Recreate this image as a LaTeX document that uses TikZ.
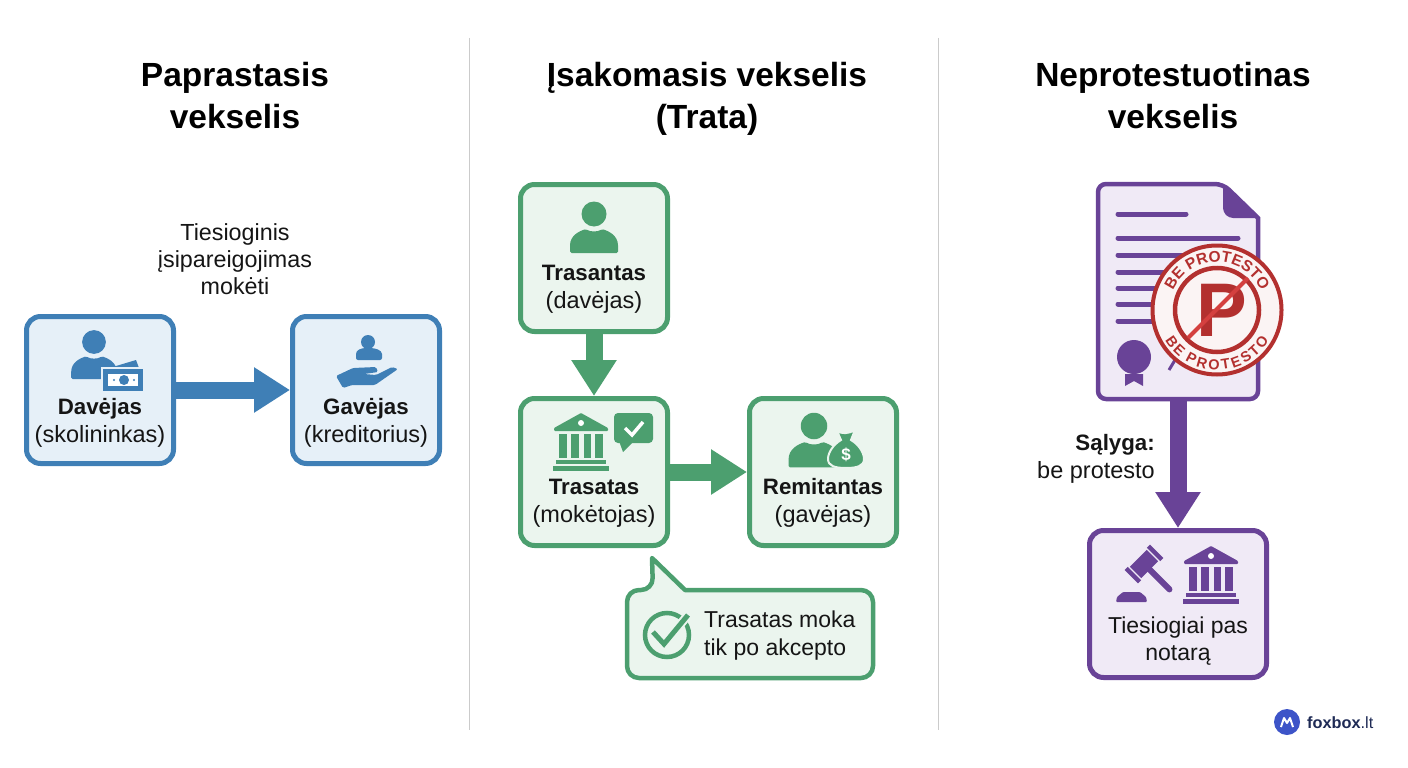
\documentclass[tikz,border=0pt]{standalone}
\usepackage{fontspec}
\setmainfont{Liberation Sans}
\usepackage{tikz}
\usetikzlibrary{arrows.meta,decorations.text}

\definecolor{blueline}{HTML}{3F7FB6}
\definecolor{bluefill}{HTML}{E6F0F8}
\definecolor{greenline}{HTML}{4C9F6F}
\definecolor{greenfill}{HTML}{EBF5EE}
\definecolor{purpleline}{HTML}{694397}
\definecolor{purplefill}{HTML}{F0EAF6}
\definecolor{stampred}{HTML}{B3302F}
\definecolor{slashred}{HTML}{D4403F}
\definecolor{stampfill}{HTML}{FBF4F4}
\definecolor{inkblack}{HTML}{151515}
\definecolor{logoblue}{HTML}{3D54C8}
\definecolor{logoink}{HTML}{1E2A55}
\definecolor{divider}{HTML}{CBCBCB}

\newcommand{\boxhead}[1]{{\fontsize{22.3}{28}\selectfont\bfseries #1}}

\tikzset{
    box/.style={draw,line width=5pt,rounded corners=14pt,minimum width=147pt,minimum height=147pt},
    bluebox/.style={box,draw=blueline,fill=bluefill},
    greenbox/.style={box,draw=greenline,fill=greenfill},
    purplebox/.style={box,draw=purpleline,fill=purplefill},
    blockarrow/.style={line width=17pt,->,>={Triangle[length=36pt,width=43pt]}},
    titletext/.style={inner sep=0pt,align=center,text=black,font=\fontsize{33.5}{42}\selectfont\bfseries},
    boxtext/.style={inner sep=0pt,align=center,text=inkblack,font=\fontsize{23.5}{28}\selectfont},
    pics/person/.style={code={
        \fill (0,0) circle (12.5);
        \fill (-24,39) [rounded corners=1.5] -- (-24,33) .. controls (-24,21) and (-14,17) .. (-8,15)
            .. controls (-4,18) and (4,18) .. (8,15) .. controls (14,17) and (24,21) .. (24,33) -- (24,39) -- cycle;
    }},
    pics/bank/.style={code={
        \fill[rounded corners=1] (28,0) -- (55,15) -- (55,18) -- (1,18) -- (1,15) -- cycle;
        \fill[white] (28,10) circle (3);
        \foreach \xa/\xb in {6/14,18/26,31/38,42/50}
            \fill (\xa,21) rectangle (\xb,45);
        \fill (3,47) rectangle (53,51);
        \fill (0,53) rectangle (56,58);
    }}
}

\begin{document}
\begin{tikzpicture}[x=1pt,y=-1pt]
    \useasboundingbox (0,0) rectangle (1408,768);

    \draw[divider,line width=1.5pt] (469.5,38) -- (469.5,730);
    \draw[divider,line width=1.5pt] (938.5,38) -- (938.5,730);

    \node[titletext] (title1) at (235,96) {Paprastasis\\vekselis};
    \node[titletext] (title2) at (707,99) {Įsakomasis vekselis\\(Trata)};
    \node[titletext] (title3) at (1173,96) {Neprotestuotinas\\vekselis};

    % first column
    \node[bluebox] (davejas) at (100,390) {};
    \node[bluebox] (gavejas) at (366,390) {};
    \draw[blockarrow,blueline] (davejas) -- (gavejas);

    \node[boxtext,font=\fontsize{23.3}{27}\selectfont] (tiesioginis) at (235,259)
        {Tiesioginis\\įsipareigojimas\\mokėti};
    \node[boxtext] (davejastext) at (100,423) {\boxhead{Davėjas}\\(skolininkas)};
    \node[boxtext] (gavejastext) at (366,423) {\boxhead{Gavėjas}\\(kreditorius)};

    \pic[fill=blueline,scale=0.95] at (94,342) {person};
    \fill[blueline] (106,369) -- (136,360) -- (139,368) -- cycle;
    \fill[blueline,draw=bluefill,line width=1.5pt] (102,368) rectangle (144,392);
    \fill[white] (108,374) rectangle (138,386);
    \fill[blueline] (124,380) circle (5);
    \fill[blueline] (114,380) circle (1.2);
    \fill[blueline] (134,380) circle (1.2);

    \fill[blueline] (368,342) circle (7);
    \fill[blueline,rounded corners=2] (356,360) -- (356,356) .. controls (356,350) and (361,348) .. (368,348)
        .. controls (375,348) and (382,350) .. (382,356) -- (382,360) -- cycle;
    \fill[blueline,rounded corners=1.5] (336,376) -- (353,368) -- (376,367) -- (378,372) -- (364,374) -- (376,375)
        -- (392,367) -- (398,369) -- (375,385) -- (352,385) -- (343,388) -- cycle;

    % second column
    \node[greenbox] (trasantas) at (594,258) {};
    \node[greenbox] (trasatas) at (594,472) {};
    \node[greenbox] (remitantas) at (823,472) {};
    \draw[blockarrow,greenline] (trasantas) -- (trasatas);
    \draw[blockarrow,greenline] (trasatas) -- (remitantas);

    \node[boxtext] (trasantastext) at (594,289) {\boxhead{Trasantas}\\(davėjas)};
    \node[boxtext] (trasatastext) at (594,503) {\boxhead{Trasatas}\\(mokėtojas)};
    \node[boxtext] (remitantastext) at (823,503) {\boxhead{Remitantas}\\(gavėjas)};

    \pic[fill=greenline] at (594,214) {person};

    \pic[fill=greenline] at (553,413) {bank};
    \fill[greenline,rounded corners=4] (614,413) rectangle (653,443);
    \fill[greenline] (619,441) -- (623,452) -- (634,441) -- cycle;
    \draw[white,line width=3.5pt] (625,428) -- (632,435) -- (643,422);

    \pic[fill=greenline,scale=1.06] at (814,426) {person};
    \draw[fill=greenline,draw=greenfill,line width=2pt] (837,431) .. controls (842,434) and (848,434) .. (855,430)
        -- (851,440) .. controls (858,444) and (864,452) .. (864,459) .. controls (864,466) and (857,468) .. (846,468)
        .. controls (835,468) and (828,466) .. (828,459) .. controls (828,452) and (834,444) .. (841,440) -- cycle;
    \node[inner sep=0pt,text=white,font=\fontsize{17}{17}\selectfont\bfseries] (dollar) at (846,455) {\$};

    \draw[line width=4.5pt,draw=greenline,fill=greenfill,line join=round]
        (685,590) [rounded corners=12] -- (873,590) -- (873,678) -- (627,678) -- (627,590) -- (653,590)
        [sharp corners] -- (652,558) -- cycle;
    \draw[greenline,line width=4.5pt] (667,635) circle (22);
    \draw[greenfill,line width=9pt] (653,632) -- (664,644) -- (688,615);
    \draw[greenline,line width=5pt] (653,632) -- (664,644) -- (688,615);
    \node[boxtext,font=\fontsize{23}{28}\selectfont,align=left,anchor=west] (akceptas) at (704,636)
        {Trasatas moka\\tik po akcepto};

    % third column
    \node[inner sep=0pt,outer sep=0pt,minimum width=164pt,minimum height=220pt] (dokumentas) at (1178,291) {};
    \node[box,draw=purpleline,fill=purplefill,minimum width=177pt] (notaras) at (1178,604) {};
    \draw[blockarrow,purpleline] (dokumentas) -- (notaras);

    \draw[purpleline,fill=purplefill,line width=4.5pt,rounded corners=8]
        (1098,184) -- (1223,184) [sharp corners] -- (1258,218) [rounded corners=8] -- (1258,399) -- (1098,399) -- cycle;
    \fill[purpleline,rounded corners=4] (1223,184) -- (1260,218) -- (1229,218) -- (1223,212) -- cycle;

    \draw[purpleline,line width=5pt,line cap=round] (1118,214) -- (1186,214);
    \foreach \ly/\lx in {238/1238,255/1200,272/1200,288/1200,304/1200,321/1200}
        \draw[purpleline,line width=5pt,line cap=round] (1118,\ly) -- (\lx,\ly);

    \fill[purpleline] (1134,357) circle (17);
    \fill[purpleline] (1125,374) -- (1143,374) -- (1143,386) -- (1134,381) -- (1125,386) -- cycle;
    \draw[purpleline,line width=3pt] (1169,370) -- (1175,360);

    \draw[stampred,fill=stampfill,line width=4pt] (1217,310) circle (64.5);
    \draw[stampred,line width=4.5pt] (1217,310) circle (42);
    \node[inner sep=0pt,text=stampred,font=\fontsize{76}{76}\selectfont\bfseries] (raide) at (1222,310) {P};
    \draw[slashred,line width=4pt] (1248,278) -- (1188,338);

    \path[decorate,decoration={text along path,text align=center,text color=stampred,
        text={|\fontsize{15.5}{15.5}\selectfont\bfseries|BE PROTESTO}}]
        (1217,310) ++(152:48pt) arc[start angle=152,end angle=28,radius=48pt];
    \path[decorate,decoration={text along path,text align=center,text color=stampred,
        text={|\fontsize{14.5}{14.5}\selectfont\bfseries|B{\,}E {\,}P{\,}R{\,}O{\,}T{\,}E{\,}S{\,}T{\,}O}}]
        (1217,310) ++(206:60pt) arc[start angle=206,end angle=334,radius=60pt];

    \node[boxtext,align=right,anchor=east] (salyga) at (1155,458.5) {\boxhead{Sąlyga:}\\be protesto};

    \fill[purpleline,rounded corners=1] (1116,602) -- (1117,597) -- (1123,592)
        -- (1140,592) -- (1146,597) -- (1147,602) -- cycle;
    \begin{scope}[shift={(1144,564)},rotate=45]
        \fill[purpleline] (-12,-8) rectangle (12,8);
        \fill[purpleline] (-18,-9.5) rectangle (-13.5,9.5);
        \fill[purpleline] (13.5,-9.5) rectangle (18,9.5);
        \draw[purpleline,line width=6pt,line cap=round] (0,7) -- (0,36);
    \end{scope}
    \pic[fill=purpleline] at (1183,546) {bank};

    \node[boxtext,font=\fontsize{23}{27}\selectfont] (pasnotara) at (1178,641) {Tiesiogiai pas\\notarą};

    % logo
    \node[circle,fill=logoblue,minimum size=26pt,inner sep=0pt] (logo) at (1287,722) {};
    \draw[white,line width=2pt,line join=round] (1281,727) -- (1284,718) -- (1287,723) -- (1290,718) -- (1293,727);
    \node[inner sep=0pt,anchor=west,text=logoink,font=\fontsize{16.3}{16.3}\selectfont] (logotext) at (1307,723)
        {\textbf{foxbox}.lt};
\end{tikzpicture}
\end{document}
